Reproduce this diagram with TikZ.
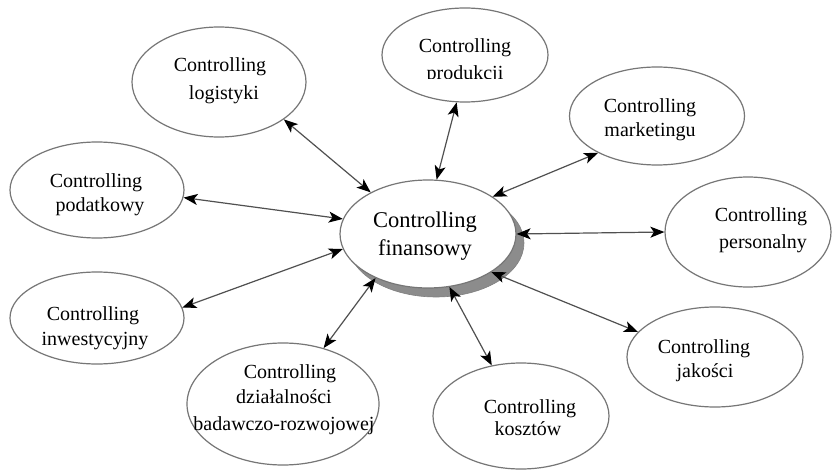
\documentclass[tikz,border=0pt]{standalone}
\usepackage{fontspec}
\setmainfont{Liberation Serif}
\usetikzlibrary{shapes.geometric,arrows.meta}
\definecolor{rimgray}{RGB}{118,118,118}
\definecolor{linkgray}{RGB}{80,80,80}
\definecolor{shadowgray}{RGB}{140,140,140}
\tikzset{
  area/.style={ellipse, draw=rimgray, line width=1.2pt, fill=white, inner sep=0pt},
  lbl/.style={anchor=base, inner sep=0pt, font=\fontsize{20}{28}\selectfont},
  biglbl/.style={anchor=base, inner sep=0pt, font=\fontsize{22.5}{27}\selectfont},
  link/.style={draw=linkgray, line width=1.2pt, {Stealth[length=14pt,width=11pt,inset=3.5pt,color=black]}-{Stealth[length=14pt,width=11pt,inset=3.5pt,color=black]}}
}
\begin{document}
\begin{tikzpicture}[x=1pt,y=-1pt]
\useasboundingbox (0,0) rectangle (832,470);
\fill[white] (0,0) rectangle (832,470);

% central node with its drop shadow
\node[ellipse, fill=shadowgray, draw=gray, line width=0.6pt,
      minimum width=176, minimum height=108] (fin-shadow) at (436,243) {};
\node[area, minimum width=176, minimum height=108] (fin) at (428,234) {};
\node[biglbl] (fin-a) at (425,228) {Controlling};
\node[biglbl] (fin-b) at (425,255) {finansowy};

% surrounding areas
\node[area, minimum width=174, minimum height=110] (log) at (219,82) {};
\node[lbl] (log-a) at (220,72) {Controlling};
\node[lbl] (log-b) at (224,100) {logistyki};

\node[area, minimum width=166, minimum height=94] (prod) at (465,55) {};
\node[lbl] (prod-a) at (465,53) {Controlling};
\begin{scope}
  \clip (380,0) rectangle (560,79);
  \node[lbl] (prod-b) at (465,80) {produkcji};
\end{scope}

\node[area, minimum width=175, minimum height=98] (mark) at (657,116) {};
\node[lbl] (mark-a) at (650,113) {Controlling};
\node[lbl] (mark-b) at (650,137) {marketingu};

\node[area, minimum width=174, minimum height=96] (pod) at (97,190) {};
\node[lbl] (pod-a) at (96,188) {Controlling};
\node[lbl] (pod-b) at (100,212) {podatkowy};

\node[area, minimum width=166, minimum height=110] (pers) at (748,232) {};
\node[lbl] (pers-a) at (761,222) {Controlling};
\node[lbl] (pers-b) at (763,248) {personalny};

\node[area, minimum width=174, minimum height=92] (inw) at (97,318) {};
\node[lbl] (inw-a) at (93,320) {Controlling};
\node[lbl] (inw-b) at (95,345) {inwestycyjny};

\node[area, minimum width=192, minimum height=122] (dzial) at (283,404) {};
\node[lbl] (dzial-a) at (290,378) {Controlling};
\node[lbl] (dzial-b) at (284,403) {działalności};
\node[lbl] (dzial-c) at (284,430) {badawczo-rozwojowej};

\node[area, minimum width=176, minimum height=106] (kosz) at (521,416) {};
\node[lbl] (kosz-a) at (530,413) {Controlling};
\node[lbl] (kosz-b) at (528,435) {kosztów};

\node[area, minimum width=176, minimum height=100] (jak) at (715,357) {};
\node[lbl] (jak-a) at (704,353) {Controlling};
\node[lbl] (jak-b) at (705,377) {jakości};

% two-way links between the centre and each area
\draw[link] (fin.144) -- (log.-30);
\draw[link] (fin.81) -- (prod.-100);
\draw[link] (fin.30) -- (mark.-148);
\draw[link] (fin.0) -- (pers.180);
\draw[link] (fin.-31) -- (jak.162);
\draw[link] (fin.-68) -- (kosz.120);
\draw[link] (fin.-140) -- (dzial.54);
\draw[link] (fin.-170) -- (inw.7);
\draw[link] (fin.170) -- (pod.-5);
\end{tikzpicture}
\end{document}
